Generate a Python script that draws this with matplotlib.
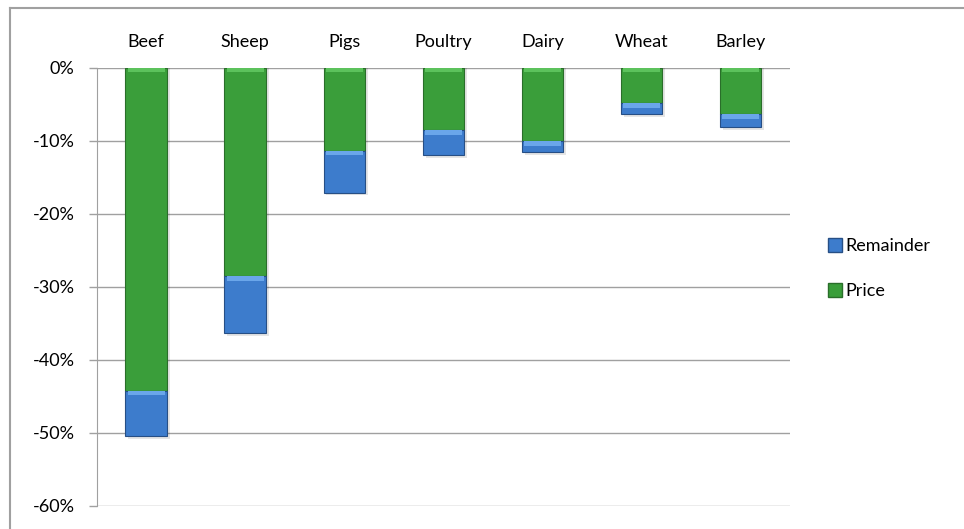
import matplotlib.pyplot as plt
from matplotlib.lines import Line2D
import numpy as np

# Data: change in output value, split into price effect and remainder (%)
categories = ['Beef', 'Sheep', 'Pigs', 'Poultry', 'Dairy', 'Wheat', 'Barley']
price = [-44.3, -28.6, -11.4, -8.6, -10.1, -4.9, -6.4]
remainder = [-6.1, -7.7, -5.7, -3.3, -1.5, -1.45, -1.7]
yticks = [0, -10, -20, -30, -40, -50, -60]

plt.rcParams['font.family'] = ['Lato', 'DejaVu Sans']

green = '#3a9e3a'
green_edge = '#2a6e2a'
green_hi = '#5cc25c'
blue = '#3d7ccc'
blue_edge = '#274f85'
blue_hi = '#6aa6ea'

fig = plt.figure(figsize=(9.64, 5.29), dpi=100)
ax = fig.add_axes([0.1003, 0.044, 0.7192, 0.828])

x = np.arange(len(categories))
w = 0.42
price = np.array(price)
remainder = np.array(remainder)

# soft drop shadow under each stack
ax.bar(x + 0.03, price + remainder - 0.4, w, color='#000000', alpha=0.10, zorder=2)

ax.bar(x, price, w, color=green, edgecolor=green_edge, linewidth=0.8, zorder=3, label='Price')
ax.bar(x, remainder, w, bottom=price, color=blue, edgecolor=blue_edge, linewidth=0.8,
       zorder=3, label='Remainder')

# bevel highlight at the top of each segment
hi = 0.6
ax.bar(x, -hi, w - 0.05, color=green_hi, linewidth=0, zorder=4)
ax.bar(x, -hi, w - 0.05, bottom=price, color=blue_hi, linewidth=0, zorder=4)

ax.set_xlim(-0.5, len(categories) - 0.5)
ax.set_ylim(-60, 0)
ax.set_yticks(yticks)
ax.set_yticklabels([f'{t}%' for t in yticks])
ax.yaxis.grid(True, color='#a0a0a0', linewidth=1)
ax.set_axisbelow(True)

ax.xaxis.tick_top()
ax.set_xticks(x)
ax.set_xticklabels(categories)
ax.tick_params(axis='x', length=0, pad=13, labelsize=13)
ax.tick_params(axis='y', length=6, width=1, color='#a0a0a0', labelsize=13, pad=10)

for s in ['top', 'right', 'bottom']:
    ax.spines[s].set_visible(False)
ax.spines['left'].set_color('#a0a0a0')

handles = [
    Line2D([], [], marker='s', linestyle='none', markersize=10,
           markerfacecolor=blue, markeredgecolor=blue_edge, label='Remainder'),
    Line2D([], [], marker='s', linestyle='none', markersize=10,
           markerfacecolor=green, markeredgecolor=green_edge, label='Price'),
]
fig.legend(handles=handles, loc='center left', bbox_to_anchor=(0.84, 0.492),
           frameon=False, fontsize=13, handletextpad=0.1, labelspacing=1.6,
           handlelength=1.0)

# chart frame lines (top and left)
fig.add_artist(Line2D([0.0099, 0.0099], [0, 0.985], color='#a0a0a0', linewidth=1.5))
fig.add_artist(Line2D([0.0099, 1.0], [0.985, 0.985], color='#a0a0a0', linewidth=1.5))

fig.savefig('out.png', dpi=100)
